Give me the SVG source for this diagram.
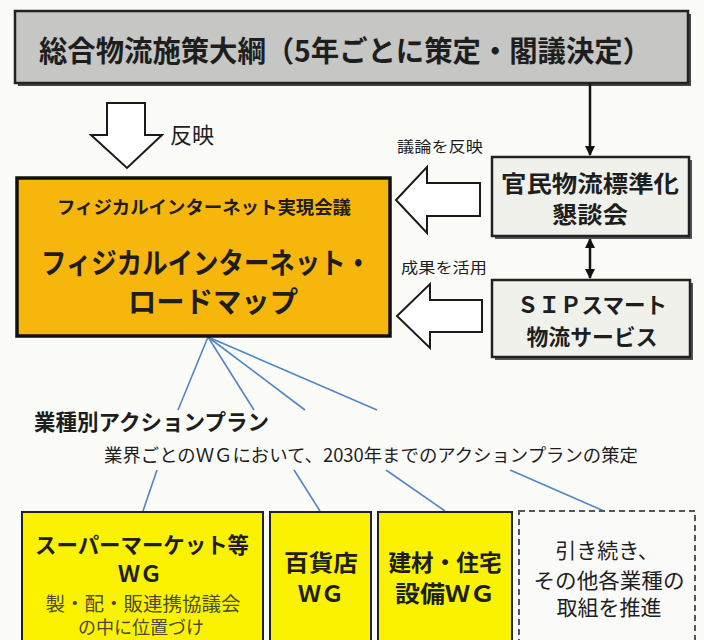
<svg xmlns="http://www.w3.org/2000/svg" width="704" height="640" viewBox="0 0 704 640">
<defs>
<style>
.jp{font-family:"Noto Sans CJK JP","Noto Sans CJK SC",sans-serif;fill:#1e1e1e}
.b{font-weight:bold}
.c{text-anchor:middle}
.hollow{fill:#ffffff;stroke:#1a1a1a;stroke-width:2;stroke-linejoin:miter}
.fan{stroke:#4f86c6;stroke-width:1.6;fill:none}
.conn{stroke:#111;stroke-width:2.5;fill:none}
.sub{fill:#4a4a35}
</style>
<marker id="ah" viewBox="0 0 10 10" refX="9" refY="5" markerWidth="4" markerHeight="4.5" orient="auto-start-reverse">
<path d="M0,0 L10,5 L0,10 z" fill="#111"/>
</marker>
</defs>
<rect x="0" y="0" width="704" height="640" fill="#fbfbf8"/>

<g id="taiko">
<rect x="18" y="14" width="673" height="72" fill="#444"/>
<rect x="15" y="11" width="673" height="72" fill="#c6c6c4" stroke="#222" stroke-width="2.5"/>
<text class="jp b" x="39" y="62" font-size="29" textLength="612" lengthAdjust="spacingAndGlyphs">総合物流施策大綱（5年ごとに策定・閣議決定）</text>
</g>

<g id="connectors">
<line class="conn" x1="590" y1="84" x2="590" y2="155" marker-end="url(#ah)"/>
<line class="conn" x1="590" y1="239" x2="590" y2="278" marker-start="url(#ah)" marker-end="url(#ah)"/>
<polygon class="hollow" points="107,103 145,103 145,135 162,135 127,168 91,135 107,135"/>
<polygon class="hollow" points="480,183 427,183 427,167 396,200 427,233 427,216 480,216"/>
<polygon class="hollow" points="482,300 430,300 430,284 397,316 430,348 430,332 482,332"/>
<line class="fan" x1="208" y1="337" x2="178" y2="410"/>
<line class="fan" x1="208" y1="337" x2="254" y2="410"/>
<line class="fan" x1="208" y1="337" x2="305" y2="410"/>
<line class="fan" x1="208" y1="337" x2="377" y2="410"/>
<line class="fan" x1="157" y1="470" x2="143" y2="511"/>
<line class="fan" x1="294" y1="470" x2="320" y2="511"/>
<line class="fan" x1="386" y1="470" x2="445" y2="511"/>
<line class="fan" x1="510" y1="470" x2="604" y2="511"/>
</g>

<g id="labels">
<text class="jp" x="170" y="143" font-size="22">反映</text>
<text class="jp" x="397" y="152" font-size="15" textLength="86" lengthAdjust="spacingAndGlyphs">議論を反映</text>
<text class="jp" x="401" y="273" font-size="15" textLength="86" lengthAdjust="spacingAndGlyphs">成果を活用</text>
</g>

<g id="roadmap">
<rect x="17" y="178" width="373" height="158" fill="#f6b60c" stroke="#111" stroke-width="3.5"/>
<text class="jp b c" x="204" y="214" font-size="18" textLength="294" lengthAdjust="spacingAndGlyphs">フィジカルインターネット実現会議</text>
<text class="jp b c" x="206" y="274" font-size="29" textLength="330" lengthAdjust="spacingAndGlyphs">フィジカルインターネット・</text>
<text class="jp b c" x="213" y="313" font-size="29" textLength="170" lengthAdjust="spacingAndGlyphs">ロードマップ</text>
</g>

<g id="kondankai">
<rect x="495" y="160" width="197" height="79" fill="#555"/>
<rect x="492" y="157" width="197" height="79" fill="#f1f1ec" stroke="#222" stroke-width="2.5"/>
<text class="jp b c" x="590" y="192" font-size="23" textLength="178" lengthAdjust="spacingAndGlyphs">官民物流標準化</text>
<text class="jp b c" x="590" y="223" font-size="23" textLength="76" lengthAdjust="spacingAndGlyphs">懇談会</text>
</g>

<g id="sip">
<rect x="495" y="283" width="198" height="77" fill="#555"/>
<rect x="492" y="280" width="198" height="77" fill="#f1f1ec" stroke="#222" stroke-width="2.5"/>
<text class="jp b c" x="592" y="313" font-size="22" textLength="150" lengthAdjust="spacingAndGlyphs">ＳＩＰスマート</text>
<text class="jp b c" x="592" y="345" font-size="22" textLength="131" lengthAdjust="spacingAndGlyphs">物流サービス</text>
</g>

<g id="actionplan">
<text class="jp b" x="34" y="430" font-size="22" textLength="235" lengthAdjust="spacingAndGlyphs">業種別アクションプラン</text>
<text class="jp" x="104" y="462" font-size="18" textLength="534" lengthAdjust="spacingAndGlyphs">業界ごとのＷＧにおいて、2030年までのアクションプランの策定</text>
</g>

<g id="wg-super">
<rect x="22" y="512" width="241" height="135" fill="#fbf200" stroke="#222" stroke-width="2"/>
<text class="jp b c" x="142" y="553" font-size="22" textLength="214" lengthAdjust="spacingAndGlyphs">スーパーマーケット等</text>
<text class="jp b c" x="140" y="582" font-size="22">ＷＧ</text>
<text class="jp c sub" x="143" y="611" font-size="19" textLength="195" lengthAdjust="spacingAndGlyphs">製・配・販連携協議会</text>
<text class="jp c sub" x="141" y="634" font-size="18">の中に位置づけ</text>
</g>

<g id="wg-dept">
<rect x="270" y="512" width="101" height="135" fill="#fbf200" stroke="#222" stroke-width="2"/>
<text class="jp b c" x="321" y="571" font-size="23" textLength="74" lengthAdjust="spacingAndGlyphs">百貨店</text>
<text class="jp b c" x="321" y="602" font-size="23">ＷＧ</text>
</g>

<g id="wg-kenzai">
<rect x="378" y="512" width="134" height="135" fill="#fbf200" stroke="#222" stroke-width="2"/>
<text class="jp b c" x="445" y="571" font-size="23" textLength="113" lengthAdjust="spacingAndGlyphs">建材・住宅</text>
<text class="jp b c" x="445" y="602" font-size="23" textLength="100" lengthAdjust="spacingAndGlyphs">設備ＷＧ</text>
</g>

<g id="other">
<rect x="519" y="511" width="176" height="136" fill="#fafaf8" stroke="#555" stroke-width="2" stroke-dasharray="6,4"/>
<text class="jp c" x="607" y="558" font-size="21">引き続き、</text>
<text class="jp c" x="609" y="588" font-size="21" textLength="151" lengthAdjust="spacingAndGlyphs">その他各業種の</text>
<text class="jp c" x="609" y="615" font-size="21">取組を推進</text>
</g>
</svg>
